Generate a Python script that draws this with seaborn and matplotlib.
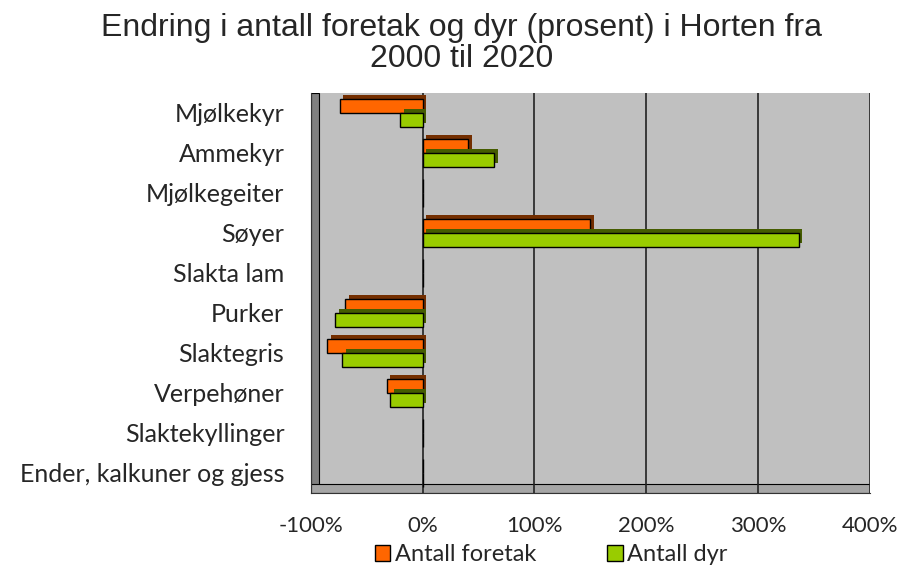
import pandas as pd
import numpy as np
import matplotlib.pyplot as plt
import matplotlib.patheffects as pe
from matplotlib.patches import Rectangle
from matplotlib.ticker import FuncFormatter
import seaborn as sns

# data (percent change 2000 -> 2020)
categories = ['Mjølkekyr', 'Ammekyr', 'Mjølkegeiter', 'Søyer', 'Slakta lam',
              'Purker', 'Slaktegris', 'Verpehøner', 'Slaktekyllinger',
              'Ender, kalkuner og gjess']
foretak = [-74, 41, 0, 150, 0, -69, -85, -32, 0, 0]
dyr = [-20, 64, 0, 336, 0, -78, -72, -29, 0, 0]
series = ['Antall foretak', 'Antall dyr']
colors = ['#ff6600', '#99cc00']

df = pd.DataFrame({
    'Kategori': categories * 2,
    'Endring': foretak + dyr,
    'Serie': [series[0]] * len(categories) + [series[1]] * len(categories),
})

sns.set_style("white")
plt.rcParams['font.family'] = ['Lato', 'DejaVu Sans']

fig = plt.figure(figsize=(8.98, 5.69), dpi=100)
ax = fig.add_axes([0.346, 0.134, 0.623, 0.703])
ax.set_facecolor('#c0c0c0')

sns.barplot(
    data=df,
    y='Kategori',
    x='Endring',
    hue='Serie',
    hue_order=series,
    palette=colors,
    saturation=1,
    orient='h',
    width=0.7,
    edgecolor='black',
    linewidth=1,
    ax=ax,
    zorder=3
)

# fake 3D depth on bars
for p in ax.patches:
    p.set_path_effects([
        pe.SimplePatchShadow(offset=(2.5, 2.5), rho=0.45, alpha=1),
        pe.Normal()
    ])

# walls
ax.add_patch(Rectangle((0, 0), 0.014, 1, transform=ax.transAxes,
                       facecolor='#808080', edgecolor='black', lw=0.8, zorder=1))
ax.add_patch(Rectangle((0, 0), 1, 0.022, transform=ax.transAxes,
                       facecolor='#a6a6a6', edgecolor='black', lw=0.8, zorder=1))

for v in [0, 100, 200, 300, 400]:
    ax.axvline(v, color='#222222', lw=1.2, zorder=2)

ax.set_xlim(-100, 400)
ax.set_ylim(9.5, -0.5)
ax.set_xticks([-100, 0, 100, 200, 300, 400])
ax.xaxis.set_major_formatter(FuncFormatter(lambda v, _: f'{v:.0f}%'))
ax.tick_params(axis='x', labelsize=16, length=4, pad=13, color='#333333')
ax.tick_params(axis='y', labelsize=18, length=0, pad=19)

for s in ['top', 'right']:
    ax.spines[s].set_visible(False)
ax.spines['left'].set_color('#333333')
ax.spines['bottom'].set_color('#333333')

ax.set_xlabel('')
ax.set_ylabel('')

ax.legend(
    loc='center',
    bbox_to_anchor=(0.43, -0.155),
    ncol=2,
    frameon=False,
    fontsize=17,
    handlelength=0.65,
    handleheight=0.65,
    handletextpad=0.2,
    columnspacing=3.0,
    borderpad=0
)
for h in ax.get_legend().legend_handles:
    h.set_edgecolor('black')
    h.set_path_effects([])

fig.suptitle('Endring i antall foretak og dyr (prosent) i Horten fra\n2000 til 2020',
             x=0.514, y=0.978, fontsize=23, family='Liberation Sans', linespacing=1.05)

plt.savefig('out.png', dpi=100)
